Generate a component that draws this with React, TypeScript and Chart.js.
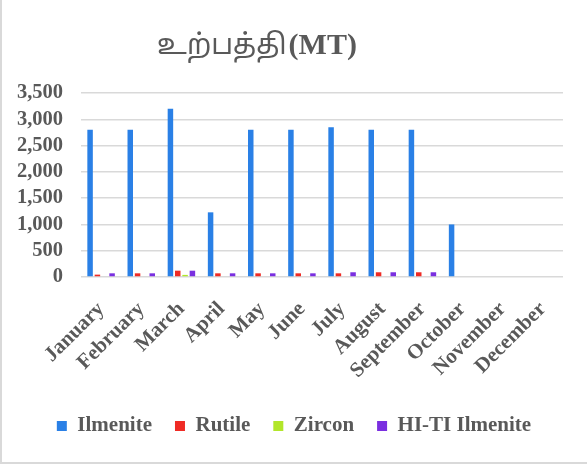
import React, { useEffect, useRef } from "react";
import { Chart, registerables } from "chart.js";

Chart.register(...registerables);

const months = [
  "January", "February", "March", "April", "May", "June",
  "July", "August", "September", "October", "November", "December",
];
const ilmenite = [2800, 2800, 3200, 1230, 2800, 2800, 2850, 2800, 2800, 1000, 0, 0];
const rutile = [45, 70, 120, 70, 70, 70, 70, 90, 90, 0, 0, 0];
const zircon = [0, 0, 40, 0, 0, 0, 0, 0, 0, 0, 0, 0];
const hiTiIlmenite = [70, 70, 120, 70, 70, 70, 90, 90, 90, 0, 0, 0];
const seriesNames = ["Ilmenite", "Rutile", "Zircon", "HI-TI Ilmenite"];
const seriesColors = ["#2a80e6", "#ef2b25", "#b2e62a", "#7a2fe0"];
const titleTamil = "உற்பத்தி";
const titleUnit = "(MT)";

const TEXT = "#595959";
const SERIF = "'Liberation Serif', 'Times New Roman', serif";

const titlePlugin = {
  id: "customTitle",
  afterDraw(chart: any) {
    const ctx = chart.ctx;
    ctx.save();
    ctx.fillStyle = TEXT;
    ctx.textBaseline = "alphabetic";
    const tamilFont = "28px 'Noto Sans Tamil', 'Lohit Tamil', 'Latha', 'Noto Sans', sans-serif";
    const unitFont = "bold 30px " + SERIF;
    ctx.font = tamilFont;
    const w1 = ctx.measureText(titleTamil).width;
    ctx.font = unitFont;
    const w2 = ctx.measureText(titleUnit).width;
    const total = w1 + 2 + w2;
    const cx = 255;
    const baseY = 54;
    let x = cx - total / 2;
    ctx.textAlign = "left";
    ctx.font = tamilFont;
    ctx.fillText(titleTamil, x, baseY);
    x += w1 + 2;
    ctx.font = unitFont;
    ctx.fillText(titleUnit, x, baseY);
    ctx.restore();
  },
};

export default function App() {
  const canvasRef = useRef<HTMLCanvasElement | null>(null);

  useEffect(() => {
    document.body.style.margin = "0";
    const canvas = canvasRef.current;
    if (!canvas) return;
    const data = [ilmenite, rutile, zircon, hiTiIlmenite];
    const chart = new Chart(canvas, {
      type: "bar",
      data: {
        labels: months,
        datasets: data.map((vals, i) => ({
          label: seriesNames[i],
          data: vals,
          backgroundColor: seriesColors[i],
          borderWidth: 0,
          categoryPercentage: 0.73,
          barPercentage: 0.75,
        })),
      },
      plugins: [titlePlugin],
      options: {
        responsive: false,
        animation: false,
        layout: { padding: { left: 15, right: 16, top: 93, bottom: 15.5 } },
        plugins: {
          title: { display: false },
          tooltip: { enabled: false },
          legend: {
            position: "bottom",
            labels: {
              boxWidth: 10,
              boxHeight: 10,
              padding: 23,
              color: TEXT,
              font: { family: SERIF, size: 21, weight: "bold" },
            },
          },
        },
        scales: {
          x: {
            grid: { display: false, drawTicks: false },
            border: { display: false },
            afterFit: (scale: any) => {
              scale.height = 115.5;
            },
            ticks: {
              autoSkip: false,
              maxRotation: 45,
              minRotation: 45,
              padding: 20,
              color: TEXT,
              font: { family: SERIF, size: 21, weight: "bold" },
            },
          },
          y: {
            min: 0,
            max: 3500,
            afterFit: (scale: any) => {
              scale.width = 64;
            },
            grid: { color: "#d9d9d9", lineWidth: 1.5, drawTicks: false },
            border: { display: false },
            ticks: {
              autoSkip: false,
              stepSize: 500,
              padding: 18,
              color: TEXT,
              font: { family: SERIF, size: 20.5, weight: "bold" },
            },
          },
          yRight: {
            position: "right",
            display: true,
            afterFit: (scale: any) => {
              scale.width = 8;
            },
            grid: { display: false, drawTicks: false },
            border: { display: false },
            ticks: { display: false },
          },
        },
      },
    });
    return () => chart.destroy();
  }, []);

  return (
    <div
      style={{
        position: "absolute",
        left: 0,
        top: 0,
        width: 587,
        height: 464,
        boxSizing: "border-box",
        borderLeft: "2px solid #d9d9d9",
        borderBottom: "2px solid #d9d9d9",
        background: "#fff",
      }}
    >
      <canvas ref={canvasRef} width={585} height={462} style={{ display: "block", width: 585, height: 462 }} />
    </div>
  );
}
